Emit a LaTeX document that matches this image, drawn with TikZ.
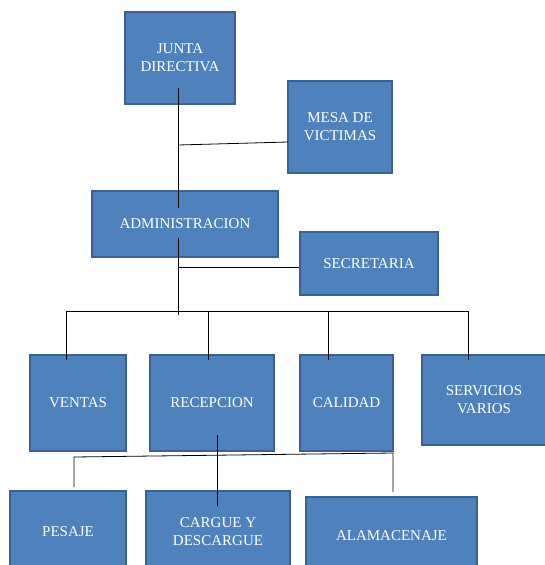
\documentclass[tikz,border=0pt]{standalone}
\usepackage{fontspec}
\setmainfont{Liberation Serif}
\begin{document}
\begin{tikzpicture}[x=1pt,y=-1pt,
  box/.style={draw=boxline,fill=boxfill,line width=2pt,text=white,align=center,
    inner sep=0pt,font=\fontsize{15}{18}\selectfont},
  conn/.style={draw=black,line width=0.8pt}]
\definecolor{boxfill}{HTML}{4F81BD}
\definecolor{boxline}{HTML}{3A6193}
\useasboundingbox (0,0) rectangle (545,565);
\clip (0,0) rectangle (545,565);
% boxes
\node[box,minimum width=110pt,minimum height=92pt] (junta) at (180,58) {JUNTA\\DIRECTIVA};
\node[box,minimum width=104pt,minimum height=92pt] (mesa) at (340,127) {MESA DE\\VICTIMAS};
\node[box,minimum width=186pt,minimum height=66pt] (admin) at (185,224) {ADMINISTRACION};
\node[box,minimum width=138pt,minimum height=63pt] (secre) at (369,263.5) {SECRETARIA};
\node[box,minimum width=96pt,minimum height=96pt] (ventas) at (78,403) {VENTAS};
\node[box,minimum width=124pt,minimum height=96pt] (recep) at (212,403) {RECEPCION};
\node[box,minimum width=93pt,minimum height=96pt] (calidad) at (346.5,403) {CALIDAD};
\node[box,minimum width=124pt,minimum height=90pt] (serv) at (484,400) {SERVICIOS\\VARIOS};
\node[box,minimum width=116pt,minimum height=82pt] (pesaje) at (68,532) {PESAJE};
\node[box,minimum width=144pt,minimum height=82pt] (cargue) at (218,532) {CARGUE Y\\DESCARGUE};
\node[box,minimum width=171pt,minimum height=77pt] (alma) at (391.5,535.5) {ALAMACENAJE};
% connector points
\coordinate (j1) at (178,88);
\coordinate (j2) at (178,208);
\coordinate (m1) at (178,145);
\coordinate (m2) at (288,142);
\coordinate (a1) at (178,238);
\coordinate (a2) at (178,315);
\coordinate (s1) at (178,267);
\coordinate (bl) at (66,311);
\coordinate (br) at (468,311);
\coordinate (bv) at (66,360);
\coordinate (br2) at (208,311);
\coordinate (brv) at (208,360);
\coordinate (bc) at (328,311);
\coordinate (bcv) at (328,360);
\coordinate (bsv) at (468,360);
\coordinate (r1) at (217,435);
\coordinate (r2) at (217,506);
\coordinate (p1) at (74,487);
\coordinate (p2) at (74,457);
\coordinate (q1) at (393,453);
\coordinate (q2) at (393,492);
% connectors
\draw[conn] (j1) -- (j2);
\draw[conn] (m1) -- (m2);
\draw[conn] (a1) -- (a2);
\draw[conn] (s1) -- (s1 -| secre.west);
\draw[conn] (bl) -- (br);
\draw[conn] (bl) -- (bv);
\draw[conn] (br2) -- (brv);
\draw[conn] (bc) -- (bcv);
\draw[conn] (br) -- (bsv);
\draw[conn] (r1) -- (r2);
\draw[conn] (p1) -- (p2) -- (q1) -- (q2);
\end{tikzpicture}
\end{document}
